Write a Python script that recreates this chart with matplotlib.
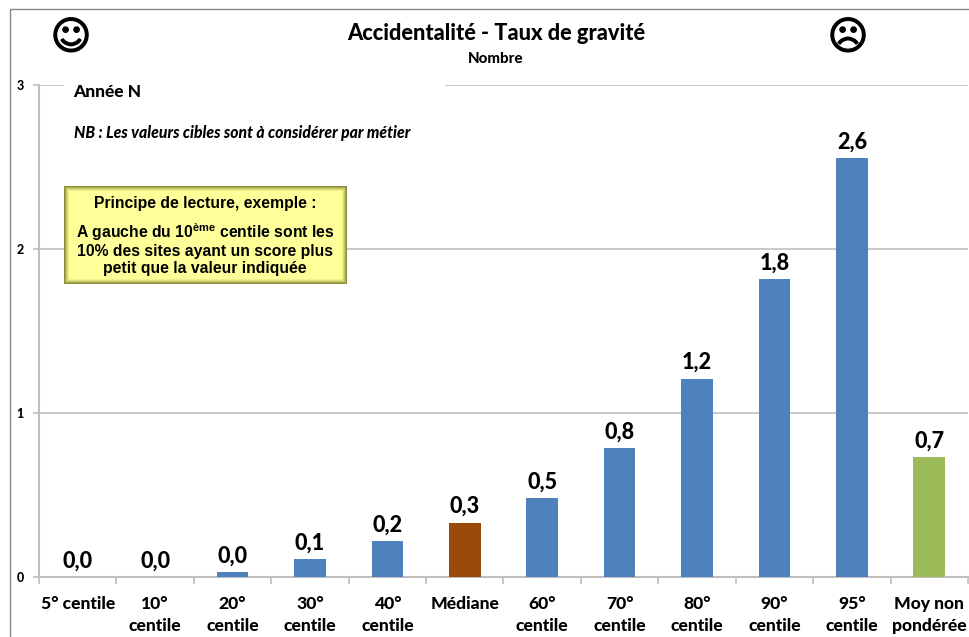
import matplotlib.pyplot as plt
import matplotlib.patheffects as pe
from matplotlib.patches import Rectangle
from matplotlib.lines import Line2D

plt.rcParams['font.family'] = ['Lato', 'DejaVu Sans']
plt.rcParams['font.weight'] = 900
plt.rcParams['mathtext.fontset'] = 'custom'
plt.rcParams['mathtext.rm'] = 'Liberation Sans:bold'
plt.rcParams['mathtext.default'] = 'rm'

categories = ['5° centile', '10°\ncentile', '20°\ncentile', '30°\ncentile', '40°\ncentile', 'Médiane',
              '60°\ncentile', '70°\ncentile', '80°\ncentile', '90°\ncentile', '95°\ncentile', 'Moy non\npondérée']
values = [0.0, 0.0, 0.03, 0.11, 0.22, 0.33, 0.48, 0.785, 1.21, 1.815, 2.555, 0.73]
value_labels = ['0,0', '0,0', '0,0', '0,1', '0,2', '0,3', '0,5', '0,8', '1,2', '1,8', '2,6', '0,7']
bar_colors = ['#4F81BD'] * 5 + ['#9C4A09'] + ['#4F81BD'] * 5 + ['#9BBB59']
y_ticks = [0, 1, 2, 3]

W, H = 970, 637
GREY = '#BFBFBF'


def fx(px):
    return px / W


def fy(py):
    return 1 - py / H


fig = plt.figure(figsize=(W / 100, H / 100), dpi=100)
ax = fig.add_axes([fx(39), fy(577), (968 - 39) / W, (577 - 85) / H])

# outer frame of the chart area
fig.add_artist(Line2D([fx(10), fx(10), 1], [0, fy(9), fy(9)], color='#868686', lw=1.0))

x = range(len(values))
ax.bar(x, values, width=0.41, color=bar_colors, zorder=3)
for i, v in enumerate(values):
    ax.text(i, v + 0.035, value_labels[i], ha='center', va='bottom', fontsize=15.5, color='black', zorder=4)

ax.set_xlim(-0.5, len(values) - 0.5)
ax.set_ylim(0, 3)
ax.set_yticks(y_ticks)
ax.set_yticklabels([str(t) for t in y_ticks], fontsize=9)
ax.set_xticks([i - 0.5 for i in range(len(values) + 1)])
ax.set_xticklabels([])
ax.set_xticks(list(x), minor=True)
ax.set_xticklabels(categories, minor=True, fontsize=12.6, linespacing=1.42, va='top')
ax.tick_params(axis='x', which='minor', length=0, pad=14)
ax.tick_params(axis='x', which='major', length=5, width=1.2, color=GREY)
ax.tick_params(axis='y', length=4, width=1.2, color=GREY, pad=7)
ax.grid(axis='y', color=GREY, lw=1.2, zorder=1)
ax.set_axisbelow(True)
for side in ['top', 'right']:
    ax.spines[side].set_visible(False)
for side in ['left', 'bottom']:
    ax.spines[side].set_color(GREY)
    ax.spines[side].set_linewidth(1.5)

# white patch hiding the top gridline behind the notes
fig.add_artist(Rectangle((fx(64), fy(100)), (444 - 64) / W, 30 / H, color='white', zorder=2))

fig.text(fx(496), fy(34), 'Accidentalité - Taux de gravité', ha='center', va='center', fontsize=15.7)
fig.text(fx(496), fy(59), 'Nombre', ha='center', va='center', fontsize=10.8)
fig.text(fx(73), fy(92), 'Année N', ha='left', va='center', fontsize=12.5, zorder=5)
fig.text(fx(74), fy(133), 'NB : Les valeurs cibles sont à considérer par métier', ha='left', va='center',
         fontsize=11.3, style='italic', zorder=5)

# smileys, thickened with a stroke
for px, glyph in [(71, '\u263A'), (848, '\u2639')]:
    t = fig.text(fx(px), fy(38), glyph, ha='center', va='center', fontsize=28, family='DejaVu Sans',
                 weight='bold')
    t.set_path_effects([pe.withStroke(linewidth=1.0, foreground='black')])

# yellow note with a soft inner shadow
bx0, by0, bx1, by1 = 64, 186, 347, 284
steps = [('#8C8C3C', 0), ('#A8A850', 1), ('#C4C464', 2), ('#DCDC78', 3), ('#F0F088', 4), ('#FFFF99', 5)]
for col, d in steps:
    fig.add_artist(Rectangle((fx(bx0 + d), fy(by1 - d)), (bx1 - bx0 - 2 * d) / W, (by1 - by0 - 2 * d) / H,
                             color=col, lw=0, zorder=6))

box_font = dict(ha='center', va='center', family='Liberation Sans', weight='bold', fontsize=11.3, zorder=7)
fig.text(fx(205), fy(203.5), 'Principe de lecture, exemple :', **box_font)
fig.text(fx(205), fy(232.5), 'A gauche du 10$^{ème}$ centile sont les', **box_font)
fig.text(fx(205), fy(251.5), '10% des sites ayant un score plus', **box_font)
fig.text(fx(205), fy(269), 'petit que la valeur indiquée', **box_font)

fig.savefig('out.png', dpi=100)
